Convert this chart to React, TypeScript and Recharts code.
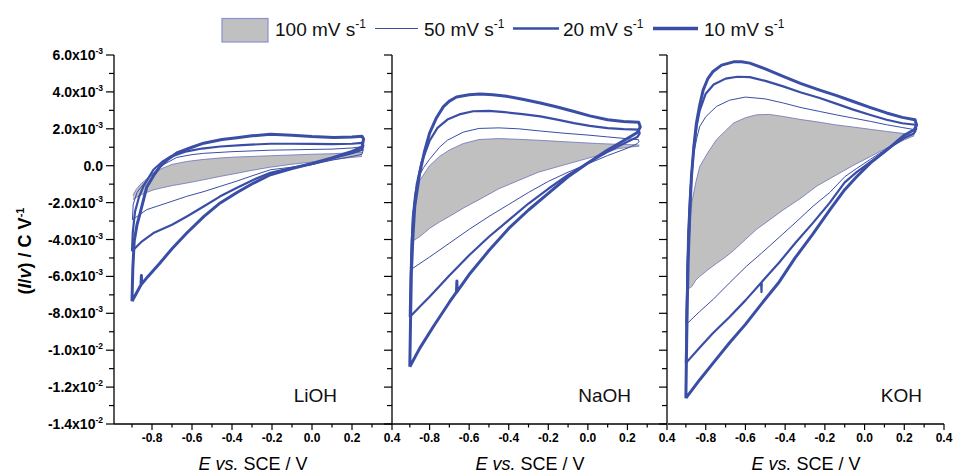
import React from "react";
import { ComposedChart, Line, Area, XAxis, YAxis } from "recharts";

// ---- data (current values in units of 1e-3 C V^-1, potential in V vs SCE) ----
type Pt = [number, number];

const legendLabels = ["100 mV s", "50 mV s", "20 mV s", "10 mV s"];
const panelNames = ["LiOH", "NaOH", "KOH"];

// LiOH
const liOH10: Pt[] = [
  [-0.9, -7.35], [-0.896, -5.6], [-0.889, -4.1], [-0.875, -3.2], [-0.86, -2.6], [-0.84, -1.75], [-0.826, -1.15],
  [-0.79, -0.5], [-0.76, -0.05], [-0.72, 0.35], [-0.676, 0.69], [-0.6, 1.0], [-0.542, 1.22], [-0.45, 1.42],
  [-0.375, 1.52], [-0.3, 1.62], [-0.208, 1.7], [-0.1, 1.65], [0.0, 1.58], [0.11, 1.53], [0.2, 1.55], [0.25, 1.6],
  [0.258, 1.45], [0.25, 1.0], [0.2, 0.78], [0.1, 0.42], [0.0, 0.12], [-0.1, -0.15], [-0.208, -0.49], [-0.292, -0.94],
  [-0.375, -1.45], [-0.459, -2.02], [-0.54, -2.75], [-0.626, -3.65], [-0.7, -4.5], [-0.76, -5.27], [-0.82, -6.0],
  [-0.852, -6.42], [-0.853, -5.95], [-0.855, -6.45], [-0.88, -6.95], [-0.9, -7.35],
];
const liOH20: Pt[] = [
  [-0.9, -4.64], [-0.896, -3.6], [-0.885, -2.5], [-0.865, -1.7], [-0.843, -1.12], [-0.793, -0.22], [-0.75, 0.2],
  [-0.71, 0.48], [-0.626, 0.78], [-0.55, 0.93], [-0.459, 1.04], [-0.35, 1.12], [-0.208, 1.19], [-0.1, 1.19],
  [0.0, 1.18], [0.1, 1.17], [0.2, 1.19], [0.25, 1.24], [0.257, 1.1], [0.25, 0.85], [0.2, 0.68], [0.1, 0.4],
  [0.0, 0.1], [-0.1, -0.12], [-0.208, -0.38], [-0.292, -0.76], [-0.375, -1.2], [-0.459, -1.66], [-0.54, -2.2],
  [-0.626, -2.75], [-0.7, -3.2], [-0.793, -3.65], [-0.85, -4.1], [-0.9, -4.64],
];
const liOH50: Pt[] = [
  [-0.898, -2.93], [-0.894, -2.1], [-0.875, -1.45], [-0.826, -0.76], [-0.76, -0.04], [-0.676, 0.45], [-0.6, 0.6],
  [-0.542, 0.67], [-0.4, 0.76], [-0.208, 0.84], [0.0, 0.88], [0.1, 0.9], [0.2, 0.96], [0.25, 1.03], [0.256, 0.85],
  [0.25, 0.62], [0.2, 0.5], [0.1, 0.3], [0.0, 0.06], [-0.1, -0.08], [-0.208, -0.22], [-0.3, -0.55], [-0.38, -0.85],
  [-0.459, -1.12], [-0.54, -1.4], [-0.626, -1.66], [-0.72, -2.0], [-0.826, -2.38], [-0.898, -2.93],
];
const liOH100X = [-0.895, -0.88, -0.86, -0.82, -0.79, -0.75, -0.7, -0.626, -0.55, -0.459, -0.38, -0.3, -0.208, -0.1, 0.0, 0.1, 0.2, 0.25];
const liOH100Hi = [-1.6, -1.3, -1.03, -0.65, -0.4, -0.15, 0.07, 0.23, 0.33, 0.42, 0.47, 0.5, 0.54, 0.58, 0.62, 0.65, 0.7, 0.72];
const liOH100Lo = [-1.84, -1.72, -1.6, -1.42, -1.3, -1.2, -1.08, -0.94, -0.78, -0.58, -0.42, -0.25, -0.08, 0.08, 0.2, 0.33, 0.45, 0.5];

// NaOH
const naOH10: Pt[] = [
  [-0.9, -10.9], [-0.896, -8.2], [-0.892, -5.8], [-0.884, -3.8], [-0.875, -2.2], [-0.85, -0.4], [-0.825, 0.8],
  [-0.8, 1.77], [-0.765, 2.6], [-0.73, 3.2], [-0.7, 3.5], [-0.664, 3.72], [-0.6, 3.85], [-0.546, 3.89], [-0.48, 3.85],
  [-0.41, 3.76], [-0.33, 3.6], [-0.24, 3.4], [-0.155, 3.18], [-0.07, 2.94], [0.01, 2.7], [0.1, 2.49], [0.18, 2.4],
  [0.257, 2.35], [0.265, 2.1], [0.25, 1.8], [0.18, 1.35], [0.1, 0.85], [0.0, 0.15], [-0.1, -0.6], [-0.2, -1.5],
  [-0.3, -2.4], [-0.4, -3.4], [-0.5, -4.6], [-0.6, -5.9], [-0.661, -6.82], [-0.662, -6.25], [-0.664, -6.85],
  [-0.7, -7.4], [-0.78, -8.7], [-0.85, -9.9], [-0.9, -10.9],
];
const naOH20: Pt[] = [
  [-0.9, -8.2], [-0.896, -6.0], [-0.89, -4.0], [-0.88, -2.5], [-0.865, -1.0], [-0.84, 0.2], [-0.8, 1.35],
  [-0.76, 2.05], [-0.71, 2.5], [-0.65, 2.78], [-0.58, 2.95], [-0.5, 2.97], [-0.42, 2.9], [-0.33, 2.8], [-0.24, 2.67],
  [-0.155, 2.5], [-0.07, 2.31], [0.01, 2.16], [0.1, 2.04], [0.18, 1.98], [0.257, 1.95], [0.262, 1.75], [0.25, 1.55],
  [0.2, 1.3], [0.1, 0.75], [0.0, 0.15], [-0.1, -0.5], [-0.2, -1.25], [-0.3, -2.05], [-0.4, -2.95], [-0.5, -3.85],
  [-0.6, -4.85], [-0.7, -5.95], [-0.8, -7.1], [-0.85, -7.65], [-0.9, -8.2],
];
const naOH50: Pt[] = [
  [-0.896, -5.64], [-0.893, -4.2], [-0.888, -2.8], [-0.875, -1.5], [-0.855, -0.6], [-0.83, -0.1], [-0.8, 0.35],
  [-0.75, 1.0], [-0.71, 1.38], [-0.63, 1.82], [-0.55, 2.02], [-0.45, 2.05], [-0.35, 2.0], [-0.24, 1.88],
  [-0.12, 1.76], [0.0, 1.66], [0.1, 1.56], [0.2, 1.46], [0.256, 1.41], [0.258, 1.3], [0.25, 1.2], [0.2, 0.95],
  [0.1, 0.55], [0.0, 0.1], [-0.1, -0.35], [-0.2, -0.85], [-0.3, -1.45], [-0.4, -2.1], [-0.5, -2.75], [-0.6, -3.45],
  [-0.7, -4.2], [-0.8, -4.95], [-0.896, -5.64],
];
const naOH100X = [-0.89, -0.88, -0.865, -0.85, -0.8, -0.75, -0.7, -0.63, -0.55, -0.45, -0.35, -0.25, -0.15, -0.05, 0.05, 0.15, 0.22, 0.26];
const naOH100Hi = [-3.8, -2.5, -1.4, -0.8, 0.0, 0.5, 0.85, 1.2, 1.42, 1.47, 1.43, 1.38, 1.32, 1.26, 1.2, 1.16, 1.14, 1.12];
const naOH100Lo = [-4.1, -4.05, -3.95, -3.85, -3.4, -3.05, -2.75, -2.3, -1.84, -1.25, -0.8, -0.35, -0.05, 0.25, 0.55, 0.92, 1.02, 1.06];

// KOH
const kOH10: Pt[] = [
  [-0.9, -12.6], [-0.896, -9.5], [-0.892, -7.0], [-0.888, -5.0], [-0.88, -2.5], [-0.872, -0.6], [-0.86, 1.0],
  [-0.847, 2.3], [-0.83, 3.3], [-0.813, 4.1], [-0.79, 4.7], [-0.763, 5.11], [-0.72, 5.45], [-0.66, 5.63],
  [-0.62, 5.63], [-0.578, 5.56], [-0.5, 5.25], [-0.41, 4.84], [-0.32, 4.45], [-0.226, 4.1], [-0.14, 3.8],
  [-0.057, 3.48], [0.03, 3.15], [0.111, 2.86], [0.19, 2.62], [0.254, 2.49], [0.262, 2.2], [0.25, 1.95],
  [0.2, 1.65], [0.15, 1.2], [0.1, 0.75], [0.03, 0.15], [-0.04, -0.6], [-0.1, -1.3], [-0.175, -2.4], [-0.26, -3.7],
  [-0.35, -5.0], [-0.43, -6.3], [-0.52, -7.5], [-0.6, -8.6], [-0.68, -9.6], [-0.763, -10.7], [-0.83, -11.6], [-0.9, -12.6],
];
const kOH20: Pt[] = [
  [-0.9, -10.7], [-0.896, -8.0], [-0.891, -5.5], [-0.882, -2.8], [-0.872, -0.6], [-0.86, 1.0], [-0.845, 2.2],
  [-0.83, 3.0], [-0.8, 3.9], [-0.76, 4.4], [-0.7, 4.72], [-0.64, 4.82], [-0.578, 4.8], [-0.5, 4.6], [-0.41, 4.3],
  [-0.32, 3.97], [-0.226, 3.67], [-0.14, 3.35], [-0.057, 3.04], [0.03, 2.75], [0.111, 2.49], [0.19, 2.3],
  [0.256, 2.22], [0.26, 2.0], [0.248, 1.75], [0.2, 1.5], [0.15, 1.15], [0.1, 0.75], [0.03, 0.2], [-0.04, -0.35],
  [-0.1, -0.9], [-0.175, -2.0], [-0.26, -3.1], [-0.35, -4.2], [-0.43, -5.25], [-0.518, -6.3], [-0.519, -6.85],
  [-0.521, -6.35], [-0.6, -7.3], [-0.68, -8.2], [-0.763, -9.07], [-0.83, -9.85], [-0.9, -10.7],
];
const kOH50: Pt[] = [
  [-0.9, -8.62], [-0.896, -6.0], [-0.891, -3.6], [-0.882, -1.6], [-0.868, 0.2], [-0.845, 1.5], [-0.83, 2.13],
  [-0.8, 2.65], [-0.746, 3.21], [-0.68, 3.55], [-0.6, 3.72], [-0.5, 3.62], [-0.41, 3.4], [-0.32, 3.15],
  [-0.226, 2.94], [-0.14, 2.75], [-0.057, 2.58], [0.03, 2.4], [0.111, 2.22], [0.19, 2.07], [0.254, 1.95],
  [0.258, 1.85], [0.25, 1.75], [0.2, 1.5], [0.15, 1.2], [0.1, 0.85], [0.03, 0.35], [-0.04, -0.15], [-0.1, -0.6],
  [-0.175, -1.45], [-0.26, -2.2], [-0.35, -3.1], [-0.427, -3.85], [-0.52, -4.75], [-0.595, -5.45], [-0.68, -6.35],
  [-0.763, -7.25], [-0.83, -7.9], [-0.9, -8.62],
];
const kOH100X = [-0.89, -0.885, -0.877, -0.87, -0.85, -0.83, -0.79, -0.746, -0.7, -0.66, -0.6, -0.544, -0.48, -0.41, -0.32, -0.24, -0.15, -0.06, 0.03, 0.11, 0.2, 0.25];
const kOH100Hi = [-6.7, -4.5, -2.8, -2.0, -0.9, -0.04, 0.7, 1.41, 1.9, 2.31, 2.6, 2.76, 2.78, 2.67, 2.5, 2.38, 2.22, 2.1, 1.97, 1.86, 1.74, 1.68];
const kOH100Lo = [-6.7, -6.65, -6.6, -6.55, -6.2, -6.0, -5.65, -5.3, -4.95, -4.6, -4.0, -3.45, -2.95, -2.4, -1.75, -1.1, -0.55, 0.0, 0.5, 0.95, 1.4, 1.62];

// axes
const X_DOMAIN: [number, number] = [-0.99, 0.4];
const Y_DOMAIN: [number, number] = [-14, 6];
const xTicks = [-0.9, -0.8, -0.7, -0.6, -0.5, -0.4, -0.3, -0.2, -0.1, 0, 0.1, 0.2, 0.3, 0.4];
const xMajor = [-0.8, -0.6, -0.4, -0.2, 0, 0.2, 0.4];
const xMajorLabels = ["-0.8", "-0.6", "-0.4", "-0.2", "0.0", "0.2", "0.4"];
const yTicks = [6, 5, 4, 3, 2, 1, 0, -1, -2, -3, -4, -5, -6, -7, -8, -9, -10, -11, -12, -13, -14];
const yMajor = [6, 4, 2, 0, -2, -4, -6, -8, -10, -12, -14];
const yLabelBase = ["6.0x10", "4.0x10", "2.0x10", "0.0", "-2.0x10", "-4.0x10", "-6.0x10", "-8.0x10", "-1.0x10", "-1.2x10", "-1.4x10"];
const yLabelExp = ["-3", "-3", "-3", "", "-3", "-3", "-3", "-3", "-2", "-2", "-2"];

// ---- styles ----
const BLUE = "#3a4ea6";
const GRAY = "#c0c0c0";
const FONT = "'Liberation Sans', Arial, Helvetica, sans-serif";

const toXY = (pts: Pt[]) => pts.map(([x, y]) => ({ x, y }));
const toRange = (xs: number[], lo: number[], hi: number[]) => xs.map((x, i) => ({ x, r: [lo[i], hi[i]] }));
const idxOf = (arr: number[], v: number) => arr.findIndex((m) => Math.abs(m - v) < 1e-6);

const XTick = (props: any) => {
  const { x, y, payload } = props;
  const i = idxOf(xMajor, payload.value);
  const major = i >= 0;
  return (
    <g>
      <line x1={x} x2={x} y1={y} y2={y + (major ? 6 : 3.5)} stroke="#000" strokeWidth={1.2} />
      {major && (
        <text x={x} y={y + 18} textAnchor="middle" fontSize={12} fontWeight="bold" fontFamily={FONT} fill="#000">
          {xMajorLabels[i]}
        </text>
      )}
    </g>
  );
};

const YTickLeft = (props: any) => {
  const { x, y, payload } = props;
  const i = idxOf(yMajor, payload.value);
  const major = i >= 0;
  return (
    <g>
      <line x1={x} x2={x - (major ? 8 : 5)} y1={y} y2={y} stroke="#000" strokeWidth={1.2} />
      {major && (
        <text x={x - 11} y={y + 5} textAnchor="end" fontSize={14} fontWeight="bold" fontFamily={FONT} fill="#000">
          {yLabelBase[i]}
          {yLabelExp[i] && (
            <tspan dy={-6} fontSize={8.5}>
              {yLabelExp[i]}
            </tspan>
          )}
        </text>
      )}
    </g>
  );
};

const YTickRight = (props: any) => {
  const { x, y, payload } = props;
  const major = idxOf(yMajor, payload.value) >= 0;
  return <line x1={x} x2={x - (major ? 8 : 5)} y1={y} y2={y} stroke="#000" strokeWidth={1.2} />;
};

const AXIS_LINE = { stroke: "#000", strokeWidth: 1.3 };

type PanelProps = {
  left: number;
  width: number;
  margin: { top: number; right: number; bottom: number; left: number };
  showLeft: boolean;
  showRight: boolean;
  l10: Pt[];
  l20: Pt[];
  l50: Pt[];
  gx: number[];
  glo: number[];
  ghi: number[];
};

const Panel = (p: PanelProps) => (
  <div style={{ position: "absolute", left: p.left, top: 0 }}>
    <ComposedChart width={p.width} height={476} margin={p.margin}>
      <XAxis
        xAxisId="x"
        type="number"
        dataKey="x"
        domain={X_DOMAIN}
        allowDataOverflow
        ticks={xTicks}
        interval={0}
        tickLine={false}
        tickSize={0}
        tickMargin={0}
        tick={XTick}
        height={52}
        axisLine={AXIS_LINE}
      />
      <YAxis
        yAxisId="y"
        type="number"
        domain={Y_DOMAIN}
        allowDataOverflow
        ticks={yTicks}
        interval={0}
        hide={!p.showLeft}
        width={114}
        tickLine={false}
        tickSize={0}
        tickMargin={0}
        tick={YTickLeft}
        axisLine={AXIS_LINE}
      />
      {p.showRight && (
        <YAxis
          yAxisId="r"
          orientation="right"
          type="number"
          domain={Y_DOMAIN}
          allowDataOverflow
          ticks={yTicks}
          interval={0}
          width={8}
          tickLine={false}
          tickSize={0}
          tickMargin={0}
          tick={YTickRight}
          axisLine={AXIS_LINE}
        />
      )}
      <Area
        xAxisId="x"
        yAxisId="y"
        data={toRange(p.gx, p.glo, p.ghi)}
        dataKey="r"
        type="linear"
        fill={GRAY}
        fillOpacity={1}
        stroke="#6d72b6"
        strokeWidth={0.8}
        dot={false}
        activeDot={false}
        isAnimationActive={false}
      />
      <Line xAxisId="x" yAxisId="y" data={toXY(p.l50)} dataKey="y" type="linear" stroke={BLUE} strokeWidth={1} dot={false} activeDot={false} strokeLinejoin="round" isAnimationActive={false} />
      <Line xAxisId="x" yAxisId="y" data={toXY(p.l20)} dataKey="y" type="linear" stroke={BLUE} strokeWidth={2.2} dot={false} activeDot={false} strokeLinejoin="round" isAnimationActive={false} />
      <Line xAxisId="x" yAxisId="y" data={toXY(p.l10)} dataKey="y" type="linear" stroke={BLUE} strokeWidth={3} dot={false} activeDot={false} strokeLinejoin="round" isAnimationActive={false} />
    </ComposedChart>
  </div>
);

const Sup = ({ children }: { children: React.ReactNode }) => (
  <tspan dy={-8} fontSize={12}>
    {children}
  </tspan>
);

const Overlay = () => (
  <svg
    width={957}
    height={476}
    style={{ position: "absolute", left: 0, top: 0, pointerEvents: "none" }}
    fontFamily={FONT}
  >
    {/* legend */}
    <rect x={222} y={18.5} width={46} height={23.5} fill={GRAY} stroke="#8a8fd0" strokeWidth={1.2} />
    <text x={275} y={36} fontSize={19} fill="#111">
      {legendLabels[0]}
      <Sup>-1</Sup>
    </text>
    <line x1={375} x2={418} y1={28.5} y2={28.5} stroke={BLUE} strokeWidth={1} />
    <text x={424} y={36} fontSize={19} fill="#111">
      {legendLabels[1]}
      <Sup>-1</Sup>
    </text>
    <line x1={513} x2={559} y1={28.5} y2={28.5} stroke={BLUE} strokeWidth={2.4} />
    <text x={563} y={36} fontSize={19} fill="#111">
      {legendLabels[2]}
      <Sup>-1</Sup>
    </text>
    <line x1={653} x2={698} y1={28.5} y2={28.5} stroke={BLUE} strokeWidth={3.4} />
    <text x={704} y={36} fontSize={19} fill="#111">
      {legendLabels[3]}
      <Sup>-1</Sup>
    </text>

    {/* y title */}
    <text x={31} y={251} fontSize={18} fontWeight="bold" textAnchor="middle" transform="rotate(-90 31 251)" fill="#000">
      (<tspan fontStyle="italic">I</tspan>/<tspan fontStyle="italic">v</tspan>) / C V
      <tspan dy={-7} fontSize={11}>-1</tspan>
    </text>

    {/* x titles */}
    {[253, 530, 806].map((cx) => (
      <text key={cx} x={cx} y={470} fontSize={18} textAnchor="middle" fill="#000">
        <tspan fontStyle="italic">E</tspan> <tspan fontStyle="italic">vs.</tspan> SCE / V
      </text>
    ))}

    {/* panel names */}
    <text x={337} y={402} fontSize={19} textAnchor="end" fill="#111">{panelNames[0]}</text>
    <text x={631} y={402} fontSize={19} textAnchor="end" fill="#111">{panelNames[1]}</text>
    <text x={922} y={402} fontSize={19} textAnchor="end" fill="#111">{panelNames[2]}</text>
  </svg>
);

export default function App() {
  return (
    <div style={{ position: "absolute", left: 0, top: 0, width: 957, height: 476, background: "#fff", overflow: "hidden" }}>
      <Panel
        left={0}
        width={410}
        margin={{ top: 55, right: 10, bottom: 0, left: 0 }}
        showLeft
        showRight
        l10={liOH10}
        l20={liOH20}
        l50={liOH50}
        gx={liOH100X}
        glo={liOH100Lo}
        ghi={liOH100Hi}
      />
      <Panel
        left={380}
        width={305}
        margin={{ top: 55, right: 10, bottom: 0, left: 12 }}
        showLeft={false}
        showRight
        l10={naOH10}
        l20={naOH20}
        l50={naOH50}
        gx={naOH100X}
        glo={naOH100Lo}
        ghi={naOH100Hi}
      />
      <Panel
        left={660}
        width={297}
        margin={{ top: 55, right: 13, bottom: 0, left: 8 }}
        showLeft={false}
        showRight={false}
        l10={kOH10}
        l20={kOH20}
        l50={kOH50}
        gx={kOH100X}
        glo={kOH100Lo}
        ghi={kOH100Hi}
      />
      <Overlay />
    </div>
  );
}
